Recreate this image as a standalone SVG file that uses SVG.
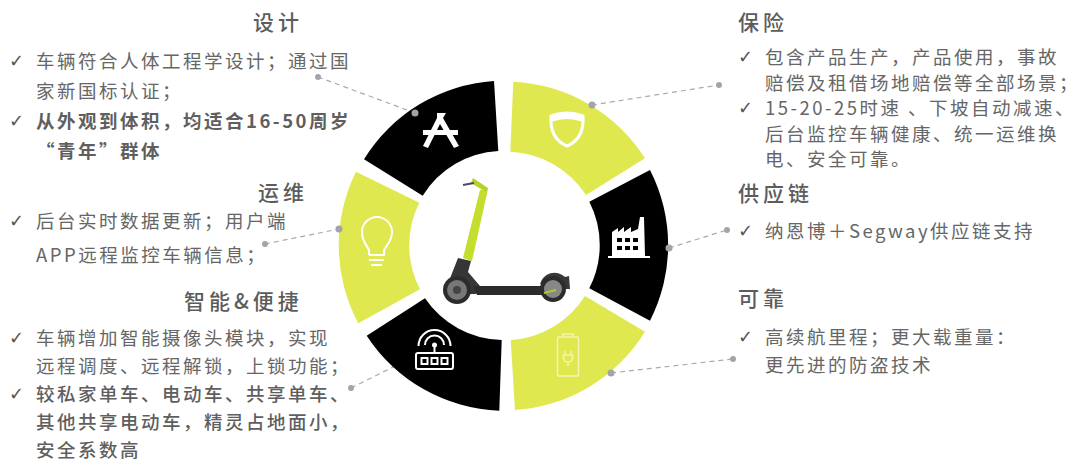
<svg xmlns="http://www.w3.org/2000/svg" width="1080" height="463" viewBox="0 0 1080 463">
<style>
text{font-family:"Noto Sans CJK SC","Noto Sans",sans-serif;fill:#666}
.t{font-size:21px;letter-spacing:4px;font-weight:500;fill:#5c5c5c}
.b{font-size:18.500px;letter-spacing:2.500px}
.s{font-weight:700;fill:#5f5f5f}
.m{font-weight:500;fill:#5f5f5f}
.c{font-family:"DejaVu Sans",sans-serif;font-size:18px;fill:#555}
.y{fill:#dfe84f}.k{fill:#000}
.w{fill:none;stroke:#fff;stroke-width:2}
.l{fill:none;stroke:#a9a9ad;stroke-width:1.2;stroke-dasharray:5 4}
.d{fill:#a3a3ab}
</style>
<rect width="1080" height="463" fill="#fff"/>
<g id="connectors">
<path class="l" d="M318 77L415 113"/><path class="l" d="M265 244L339 229"/><path class="l" d="M351 388L413 357"/>
<path class="l" d="M592 105L719 85"/><path class="l" d="M669 248L727 230"/><path class="l" d="M611 373L733 359"/>
</g>
<g id="seg-design">
<path class="k" d="M494 81L498.300 151A95 95 0 0 0 422.700 195.700L364 159.300A165.500 165.500 0 0 1 494 81Z"/>
<path d="M437 113H446L443 118L459 146L454 148L440 124L428 148L423 146L437 118ZM423 130H458V135H423Z" fill="#fff"/>
<circle class="d" cx="415" cy="113" r="3.500"/><circle class="d" cx="318" cy="77" r="3"/>
</g>
<g id="seg-insurance">
<path class="y" d="M513.300 81.700L510.300 151.700A95 95 0 0 1 586 195L645 158.300A165.500 165.500 0 0 0 513.300 81.700Z"/>
<path d="M551 116Q567 110 583 116C584 131 579 141 567 146C555 141 550 131 551 116Z" fill="none" stroke="#fff" stroke-width="3"/>
<path d="M551 116Q567 110 583 116V122Q567 116 551 122Z" fill="#fff"/>
<circle class="d" cx="592" cy="105" r="3.500"/><circle class="d" cx="719" cy="85" r="3"/>
</g>
<g id="seg-supply">
<path class="k" d="M650 170L589.300 201.700A95 95 0 0 1 589.300 288.300L650 320.700A165.500 165.500 0 0 0 650 170Z"/>
<path d="M612 256V232L618 228V232L624 227V232L631 227V232L638 229L640 217H644L645 256Z" fill="#fff"/><path d="M608 257H650" stroke="#fff" stroke-width="2"/>
<path d="M617 238h5v4h-5zM625 238h5v4h-5zM633 238h5v4h-5zM617 246h5v4h-5zM625 246h5v4h-5zM633 246h5v4h-5z" fill="#000"/>
<circle class="d" cx="669" cy="248" r="3.500"/><circle class="d" cx="727" cy="230" r="3"/>
</g>
<g id="seg-reliable">
<path class="y" d="M645 331.700L585 296A95 95 0 0 1 510.700 340L515 410A165.500 165.500 0 0 0 645 331.700Z"/>
<rect x="557.500" y="337" width="21" height="39" rx="1" fill="none" stroke="#f3f6b0" stroke-width="1.500"/><path d="M563 336.500V334H573V336.500" fill="none" stroke="#f3f6b0" stroke-width="1.500"/>
<path d="M565 351V355M571 351V355M563.500 355H572.500V358Q572 362 568 362Q564 362 563.500 358ZM568 362V366" fill="none" stroke="#f3f6b0" stroke-width="1.500"/>
<circle class="d" cx="611" cy="373" r="3.500"/><circle class="d" cx="733" cy="359" r="3"/>
</g>
<g id="seg-smart">
<path class="k" d="M366.700 335.700L425 298.300A95 95 0 0 0 501.700 340L499.300 410.700A165.500 165.500 0 0 1 366.700 335.700Z"/>
<rect x="416" y="353" width="37" height="16" rx="2" class="w"/><rect x="421.500" y="358" width="6" height="6" class="w" stroke-width="1.500"/><rect x="431.500" y="358" width="6" height="6" class="w" stroke-width="1.500"/><rect x="441.500" y="358" width="6" height="6" class="w" stroke-width="1.500"/>
<path class="w" d="M418.500 346A16 16 0 0 1 450.500 346M425 345A9.500 9.500 0 0 1 444 345M434.500 346V353"/><circle cx="434.500" cy="345" r="2.500" fill="#fff"/>
<circle class="d" cx="351" cy="388" r="3"/>
</g>
<g id="seg-ops">
<path class="y" d="M356 171.700L419.300 202.700A95 95 0 0 0 420 289.300L358.300 323.300A165.500 165.500 0 0 1 356 171.700Z"/>
<path class="w" d="M369 255V251C369 247 362 243 362 232A15 15 0 0 1 392 232C392 243 384 247 384 251V255H369M369 260H384M371 265H382"/>
<circle class="d" cx="339" cy="229" r="3.500"/><circle class="d" cx="265" cy="244" r="3"/>
</g>
<g id="scooter">
<path d="M480 190L488 189L472 261L463 258Z" fill="#c5dd2c"/>
<path d="M473 178L488 188L486 192L471 183Z" fill="#b9d02c"/>
<path d="M463 185L474 183" stroke="#4a4a70" stroke-width="2"/>
<path d="M458 258L471 261L468 272L480 286L476 294L458 294L447 286Z" fill="#363636"/>
<path d="M473 286H542V295H477Z" fill="#2b2b2b"/>
<circle cx="457" cy="290" r="14" fill="#2c2c2c"/><circle cx="457" cy="290" r="10" fill="#777"/><circle cx="457" cy="290" r="4" fill="#444"/>
<path d="M540 284A15 15 0 0 1 565 277L569 276L570 289H566Z" fill="#383838"/>
<circle cx="553" cy="289" r="13" fill="#2c2c2c"/><circle cx="553" cy="289" r="9" fill="#888"/>
<path d="M544 293L556 290" stroke="#a8cc30" stroke-width="2"/>
</g>
<g id="text-design">
<text class="t" x="253" y="30">设计</text>
<text class="c" x="9" y="67">✓</text><text class="b" x="36" y="68">车辆符合人体工程学设计；通过国</text>
<text class="b" x="36" y="98">家新国标认证；</text>
<text class="c" x="9" y="127">✓</text><text class="b s" x="36" y="128">从外观到体积，均适合16-50周岁</text>
<text class="b s" x="36" y="158">“青年”群体</text>
</g>
<g id="text-ops">
<text class="t" x="258" y="200">运维</text>
<text class="c" x="9" y="227">✓</text><text class="b" x="36" y="228">后台实时数据更新；用户端</text>
<text class="b" x="36" y="262">APP远程监控车辆信息；</text>
</g>
<g id="text-smart">
<text class="t" x="184" y="309">智能&amp;便捷</text>
<text class="c" x="9" y="344">✓</text><text class="b" x="36" y="345">车辆增加智能摄像头模块，实现</text>
<text class="b" x="36" y="373">远程调度、远程解锁，上锁功能；</text>
<text class="c" x="9" y="400">✓</text><text class="b m" x="36" y="401">较私家单车、电动车、共享单车、</text>
<text class="b m" x="36" y="429">其他共享电动车，精灵占地面小，</text>
<text class="b m" x="36" y="457">安全系数高</text>
</g>
<g id="text-insurance">
<text class="t" x="738" y="30">保险</text>
<text class="c" x="738" y="63">✓</text><text class="b" x="765" y="64">包含产品生产，产品使用，事故</text>
<text class="b" x="765" y="90">赔偿及租借场地赔偿等全部场景；</text>
<text class="c" x="738" y="114">✓</text><text class="b" x="765" y="115">15-20-25时速 、下坡自动减速、</text>
<text class="b" x="765" y="141">后台监控车辆健康、统一运维换</text>
<text class="b" x="765" y="166">电、安全可靠。</text>
</g>
<g id="text-supply">
<text class="t" x="738" y="201">供应链</text>
<text class="c" x="738" y="237">✓</text><text class="b" x="765" y="238">纳恩博＋Segway供应链支持</text>
</g>
<g id="text-reliable">
<text class="t" x="738" y="306">可靠</text>
<text class="c" x="738" y="343">✓</text><text class="b" x="765" y="344">高续航里程；更大载重量：</text>
<text class="b" x="765" y="372">更先进的防盗技术</text>
</g>
</svg>
